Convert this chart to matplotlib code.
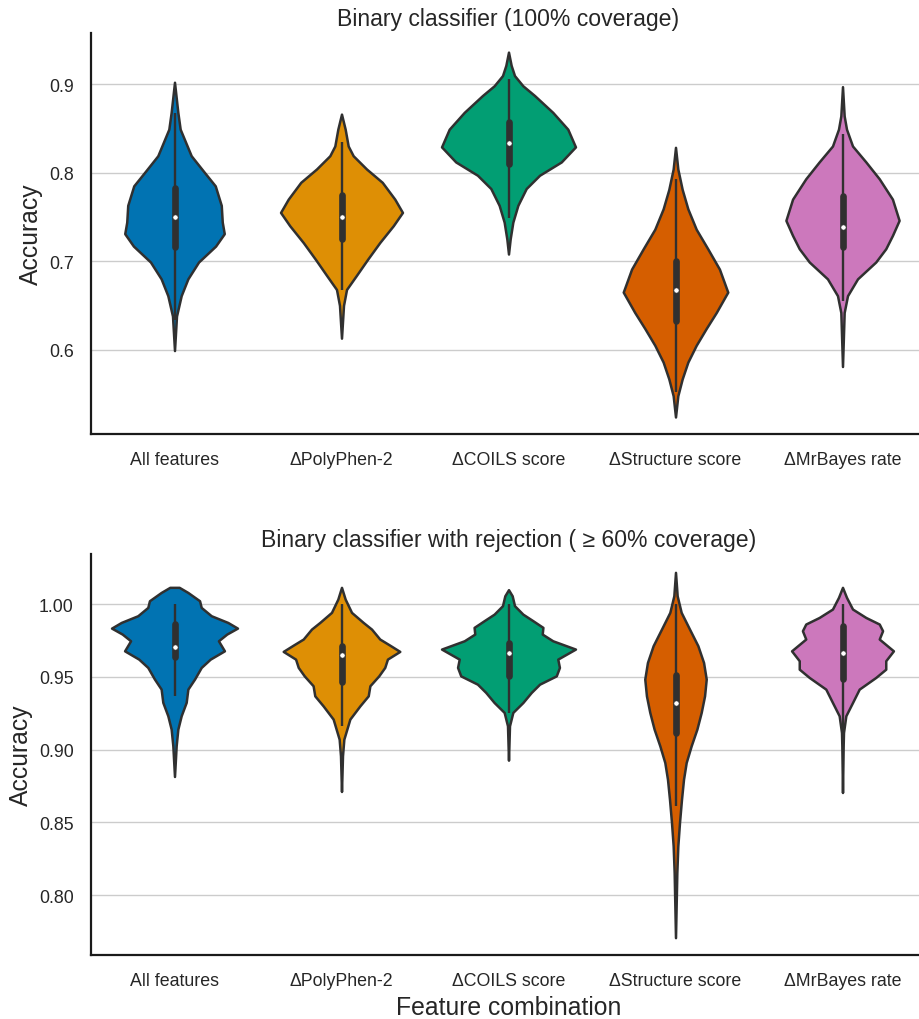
import numpy as np
import matplotlib
matplotlib.use('Agg')
import matplotlib.pyplot as plt
from matplotlib.ticker import FormatStrFormatter

plt.rcParams['font.family'] = ['Liberation Sans', 'DejaVu Sans']

features = ['All features', 'ΔPolyPhen-2', 'ΔCOILS score', 'ΔStructure score', 'ΔMrBayes rate']
colors = ['#0173B2', '#DE8F05', '#029E73', '#D55E00', '#CC78BC']
edge = '#303030'

# --- top panel: 100% coverage ---
# violin outlines: accuracy values and half width (category units)
top_coords = [
    [0.902, 0.868, 0.849, 0.819, 0.800, 0.785, 0.763, 0.744, 0.731, 0.717, 0.699, 0.680, 0.661, 0.638, 0.599],
    [0.866, 0.849, 0.830, 0.819, 0.804, 0.789, 0.770, 0.755, 0.740, 0.721, 0.702, 0.683, 0.668, 0.650, 0.613],
    [0.936, 0.921, 0.9095, 0.898, 0.887, 0.868, 0.849, 0.829, 0.812, 0.797, 0.782, 0.763, 0.744, 0.725, 0.708],
    [0.8285, 0.804, 0.781, 0.759, 0.736, 0.714, 0.691, 0.665, 0.642, 0.624, 0.605, 0.586, 0.567, 0.548, 0.524],
    [0.897, 0.864, 0.849, 0.830, 0.812, 0.793, 0.770, 0.746, 0.729, 0.714, 0.699, 0.680, 0.661, 0.642, 0.581],
]
top_half = [
    [0, .020, .034, .100, .180, .244, .280, .286, .298, .246, .144, .080, .040, .012, 0],
    [0, .022, .040, .070, .150, .244, .319, .365, .310, .229, .156, .086, .030, .012, 0],
    [0, .016, .036, .086, .156, .265, .355, .401, .316, .186, .106, .056, .026, .010, 0],
    [0, .014, .040, .074, .124, .193, .263, .313, .244, .184, .124, .074, .040, .014, 0],
    [0, .010, .024, .060, .140, .220, .299, .339, .299, .259, .199, .090, .030, .010, 0],
]
top_q1 = [0.716, 0.725, 0.810, 0.632, 0.716]
top_med = [0.750, 0.750, 0.833, 0.667, 0.739]
top_q3 = [0.783, 0.775, 0.857, 0.700, 0.774]
top_lo = [0.633, 0.667, 0.749, 0.552, 0.655]
top_hi = [0.867, 0.834, 0.906, 0.793, 0.844]

# --- bottom panel: with rejection ---
bot_coords = [
    [1.0115, 1.0080, 1.0023, 0.9977, 0.9920, 0.9874, 0.9835, 0.9794, 0.9748, 0.9679, 0.9622, 0.9565, 0.9485,
     0.9416, 0.9325, 0.9233, 0.9141, 0.9027, 0.8816],
    [1.0115, 1.0034, 0.9943, 0.9874, 0.9828, 0.9760, 0.9718, 0.9675, 0.9622, 0.9565, 0.9507, 0.9439, 0.9370,
     0.9301, 0.9210, 0.9072, 0.8958, 0.8713],
    [1.0099, 1.0057, 0.9989, 0.9931, 0.9886, 0.9840, 0.9794, 0.9748, 0.9691, 0.9622, 0.9565, 0.9507, 0.9450,
     0.9393, 0.9324, 0.9256, 0.9164, 0.8928],
    [1.0218, 1.0057, 0.9943, 0.9828, 0.9714, 0.9599, 0.9485, 0.9370, 0.9256, 0.9141, 0.9027, 0.8912, 0.8797,
     0.8660, 0.8500, 0.8339, 0.8156, 0.7709],
    [1.0115, 1.0046, 0.9966, 0.9908, 0.9863, 0.9817, 0.9760, 0.9679, 0.9611, 0.9553, 0.9496, 0.9416, 0.9324,
     0.9233, 0.9118, 0.9027, 0.8706],
]
bot_half = [
    [.028, .080, .150, .160, .220, .319, .377, .313, .263, .299, .214, .160, .120, .080, .070, .040, .020, .010, 0],
    [0, .022, .060, .130, .180, .229, .289, .349, .275, .259, .223, .170, .160, .110, .050, .014, .006, 0],
    [0, .022, .036, .086, .146, .206, .202, .265, .401, .295, .305, .286, .186, .136, .086, .026, .006, 0],
    [0, .010, .034, .084, .134, .168, .184, .174, .154, .128, .094, .064, .048, .036, .024, .014, .008, 0],
    [0, .024, .060, .140, .220, .240, .220, .305, .259, .259, .199, .100, .060, .020, .006, .004, 0],
]
bot_q1 = [0.9634, 0.9462, 0.9507, 0.9118, 0.9485]
bot_med = [0.9702, 0.9652, 0.9663, 0.9318, 0.9663]
bot_q3 = [0.9863, 0.9713, 0.9732, 0.9512, 0.9847]
bot_lo = [0.937, 0.9164, 0.925, 0.8614, 0.9072]
bot_hi = [1.0, 1.0, 1.0, 1.0, 1.0]


def draw_panel(ax, coords, half, q1, med, q3, lo, hi):
    pos = np.arange(len(coords))
    stats = []
    for c, h, m in zip(coords, half, med):
        c = np.array(c)
        stats.append(dict(coords=c, vals=np.array(h), mean=m, median=m, min=c.min(), max=c.max()))
    widths = [2 * max(h) for h in half]
    parts = ax.violin(stats, positions=pos, widths=widths,
                      showmeans=False, showextrema=False, showmedians=False)
    for body, col in zip(parts['bodies'], colors):
        body.set_facecolor(col)
        body.set_edgecolor(edge)
        body.set_linewidth(1.8)
        body.set_alpha(1)
        body.set_zorder(2)
    # inner box
    ax.vlines(pos, lo, hi, color=edge, lw=1.7, zorder=3)
    ax.vlines(pos, q1, q3, color=edge, lw=4.8, zorder=3, capstyle='round')
    ax.scatter(pos, med, s=14, color='white', edgecolor=edge, linewidth=0.4, zorder=4)

    ax.set_xlim(-0.5, 4.5)
    ax.set_xticks(pos)
    ax.set_xticklabels(features)
    ax.set_axisbelow(True)
    ax.yaxis.grid(True, color='0.8', lw=1.0)
    ax.xaxis.grid(False)
    for s in ['top', 'right']:
        ax.spines[s].set_visible(False)
    for s in ['left', 'bottom']:
        ax.spines[s].set_color('0.1')
        ax.spines[s].set_linewidth(1.6)
    ax.tick_params(length=0, pad=12.5, labelsize=12.8, labelcolor='0.15')
    ax.set_ylabel('Accuracy', fontsize=17.8, color='0.15')


fig = plt.figure(figsize=(9.19, 10.2), dpi=100)
ax1 = fig.add_axes([91 / 919, 585 / 1020, 835 / 919, 401 / 1020])
ax2 = fig.add_axes([91 / 919, 64 / 1020, 835 / 919, 401 / 1020])

draw_panel(ax1, top_coords, top_half, top_q1, top_med, top_q3, top_lo, top_hi)
ax1.set_ylim(0.5048, 0.9576)
ax1.set_yticks([0.6, 0.7, 0.8, 0.9])
ax1.yaxis.set_major_formatter(FormatStrFormatter('%.1f'))
ax1.set_title('Binary classifier (100% coverage)', fontsize=16.6, color='0.15')

draw_panel(ax2, bot_coords, bot_half, bot_q1, bot_med, bot_q3, bot_lo, bot_hi)
ax2.set_ylim(0.759, 1.0344)
ax2.set_yticks([0.80, 0.85, 0.90, 0.95, 1.00])
ax2.yaxis.set_major_formatter(FormatStrFormatter('%.2f'))
ax2.set_title('Binary classifier with rejection ( ≥ 60% coverage)', fontsize=16.6, color='0.15')
ax2.set_xlabel('Feature combination', fontsize=17.8, color='0.15')

fig.savefig('out.png', dpi=100)
